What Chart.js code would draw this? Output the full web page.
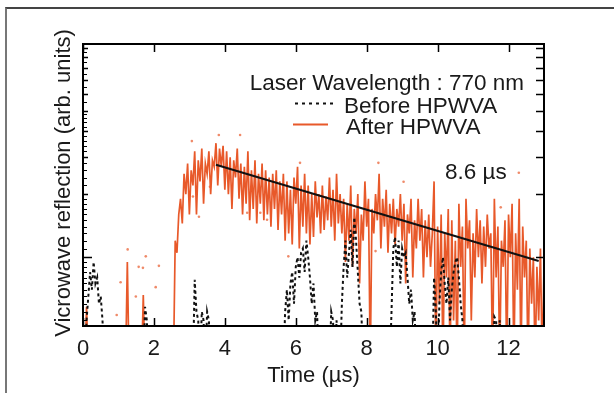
<!DOCTYPE html>
<html>
<head>
<meta charset="utf-8">
<script src="https://cdn.jsdelivr.net/npm/chart.js@4.4.1/dist/chart.umd.min.js"></script>
<style>
    html, body { margin: 0; padding: 0; background: #fff; }
    #wrap { position: relative; width: 614px; height: 393px; overflow: hidden; }
    #frame { position: absolute; left: 5px; top: 7px; width: 700px; height: 500px;
             border-top: 2px solid #444; border-left: 2px solid #777; }
    canvas { position: absolute; left: 0; top: 0; }
</style>
</head>
<body>
<div id="wrap">
    <div id="frame"></div>
    <canvas id="chart_1" width="614" height="393"></canvas>
</div>
<script>
// sample spacing of both traces (µs)
const STEP = 0.05;

// microwave reflection after HPWVA, one value per sample
const after = [
    0.3, 0.3, 0.58, 0.3, 0.3, 0.3, 0.3, 0.3, 0.3, 0.3,
    0.3, 0.3, 0.3, 0.3, 0.3, 0.3, 0.3, 0.3, 0.3, 0.3,
    0.3, 0.3, 0.3, 0.3, 0.3, 0.95, 0.3, 0.3, 0.3, 0.3,
    0.3, 0.3, 0.3, 0.3, 0.66, 0.3, 0.3, 0.3, 0.3, 0.3,
    0.3, 0.3, 0.3, 0.3, 0.3, 0.3, 0.3, 0.3, 0.3, 0.3,
    0.3, 0.3, 1.2, 1.05, 1.6, 1.9, 1.45, 2.5, 2.0, 2.8,
    1.6, 2.6, 2.2, 3.2, 1.6, 2.9, 2.3, 3.3, 1.8, 2.8,
    2.5, 3.2, 2.0, 2.9, 2.7, 3.5, 2.2, 3.3, 2.7, 3.4,
    2.1, 3.2, 2.0, 3.0, 1.7, 2.9, 2.4, 3.3, 1.9, 2.8,
    1.6, 2.7, 1.8, 3.2, 1.5, 2.6, 1.7, 2.9, 1.45, 2.5,
    1.8, 2.8, 1.5, 2.6, 1.6, 2.4, 1.4, 2.5, 1.7, 2.6,
    1.35, 2.3, 1.6, 2.5, 1.2, 2.3, 1.3, 2.1, 1.15, 2.4,
    1.8, 2.7, 1.1, 2.2, 1.4, 2.5, 1.3, 2.2, 1.15, 2.0,
    1.25, 2.3, 1.55, 2.0, 1.3, 2.2, 1.35, 1.95, 1.5, 2.4,
    1.4, 2.1, 1.2, 2.5, 1.45, 2.0, 1.3, 1.9, 0.95, 1.8,
    1.2, 2.2, 0.9, 1.7, 1.3, 2.0, 0.75, 1.6, 1.2, 2.3,
    1.4, 1.9, 0.3, 1.7, 1.3, 2.0, 1.5, 2.5, 1.1, 1.9,
    1.4, 2.1, 1.05, 1.8, 1.3, 1.9, 1.15, 1.7, 1.4, 2.0,
    1.2, 1.8, 0.75, 1.6, 1.3, 1.9, 0.8, 1.5, 1.1, 1.9,
    1.2, 1.7, 0.8, 1.5, 1.0, 1.6, 0.9, 1.3, 2.3, 0.3,
    1.4, 0.6, 1.6, 0.3, 1.3, 0.8, 1.7, 0.3, 1.5, 0.5,
    1.2, 0.3, 1.8, 0.9, 1.4, 0.3, 1.9, 1.1, 1.5, 0.5,
    1.3, 0.8, 1.7, 1.0, 1.5, 0.75, 1.4, 0.9, 1.6, 1.1,
    1.3, 0.3, 1.9, 0.8, 1.4, 0.3, 1.2, 0.9, 1.5, 0.3,
    1.6, 1.0, 1.8, 0.3, 1.3, 0.7, 1.9, 0.3, 1.4, 0.8,
    1.2, 0.3, 1.1, 0.6, 1.0, 0.3, 0.9, 0.5, 1.1, 0.3,
    0.9
];

// microwave reflection before HPWVA
const before = [
    0.3, 0.3, 0.5, 0.65, 0.85, 0.7, 0.95, 0.75, 0.8, 0.6,
    0.65, 0.5, 0.3, 0.3, 0.3, 0.3, 0.3, 0.3, 0.3, 0.3,
    0.3, 0.3, 0.3, 0.3, 0.3, 0.3, 0.3, 0.3, 0.3, 0.3,
    0.3, 0.3, 0.3, 0.3, 0.3, 0.58, 0.5, 0.3, 0.3, 0.3,
    0.3, 0.3, 0.3, 0.3, 0.3, 0.3, 0.3, 0.3, 0.3, 0.3,
    0.3, 0.3, 0.3, 0.3, 0.3, 0.3, 0.3, 0.3, 0.3, 0.3,
    0.3, 0.3, 0.3, 0.78, 0.55, 0.5, 0.3, 0.55, 0.5, 0.3,
    0.55, 0.5, 0.3, 0.3, 0.3, 0.3, 0.3, 0.3, 0.3, 0.3,
    0.3, 0.3, 0.3, 0.3, 0.3, 0.3, 0.3, 0.3, 0.3, 0.3,
    0.3, 0.3, 0.3, 0.3, 0.3, 0.3, 0.3, 0.3, 0.3, 0.3,
    0.3, 0.3, 0.3, 0.3, 0.3, 0.3, 0.3, 0.3, 0.3, 0.3,
    0.3, 0.3, 0.3, 0.3, 0.55, 0.7, 0.5, 0.75, 0.85, 0.6,
    0.9, 1.0, 0.8, 1.05, 1.1, 0.85, 1.2, 1.0, 0.8, 0.6,
    0.75, 0.5, 0.55, 0.3, 0.3, 0.3, 0.3, 0.3, 0.3, 0.3,
    0.55, 0.5, 0.3, 0.5, 0.3, 0.3, 0.6, 0.9, 1.2, 0.8,
    1.05, 1.35, 0.9, 1.55, 1.2, 0.85, 0.6, 0.55, 0.3, 0.3,
    0.3, 0.3, 0.3, 0.3, 0.3, 0.3, 0.3, 0.3, 0.3, 0.3,
    0.3, 0.3, 0.3, 0.3, 0.55, 1.1, 1.25, 0.9, 1.2, 0.75,
    1.1, 1.0, 1.05, 0.8, 0.6, 0.7, 0.5, 0.55, 0.3, 0.3,
    0.3, 0.3, 0.3, 0.3, 0.3, 0.3, 0.3, 0.3, 0.8, 0.55,
    0.3, 0.6, 0.85, 1.0, 0.75, 0.6, 0.8, 0.5, 0.7, 0.85,
    0.95, 1.0, 0.8, 0.6, 0.5, 0.3, 0.3, 0.3, 0.3, 0.3,
    0.3, 0.3, 0.3, 0.3, 0.3, 0.3, 0.3, 0.3, 0.3, 0.3,
    0.3, 0.3, 0.52, 0.5, 0.3, 0.5, 0.3, 0.3, 0.3, 0.3,
    0.3, 0.3, 0.3, 0.3, 0.3, 0.3, 0.3, 0.3, 0.3, 0.3,
    0.3, 0.3, 0.3, 0.3, 0.3, 0.3, 0.3, 0.3, 0.3, 0.3,
    0.3
];

// stray single samples scattered around the after trace
const dotsT = [0.95, 1.06, 1.26, 1.49, 1.57, 1.69, 1.77, 2.05, 2.14, 3.07, 3.1, 3.27, 3.58,
               3.83, 4.43, 4.63, 5.0, 5.19, 5.79, 6.12, 8.25, 8.33, 9.04, 11.78, 12.29];
const dotsV = [0.53, 0.76, 1.09, 0.65, 0.9, 0.89, 1.01, 0.72, 0.91, 3.58, 1.95, 1.56, 2.17,
               3.83, 3.83, 1.63, 1.63, 1.51, 1.01, 2.82, 1.07, 2.82, 2.29, 1.73, 2.53];

// exponential fit, tau = 8.6 µs
const fitT = [3.75, 12.85];
const fitV = [2.76, 0.96];

const xTicks = [0, 2, 4, 6, 8, 10, 12];
const yTicks = [1, 2, 3, 4, 5, 6, 7, 8, 9, 10];

const ORANGE = '#e8592a';
const FONT = "'Liberation Sans', Arial, Helvetica, sans-serif";

function pairs(xs, ys) {
    return ys.map(function (v, i) { return { x: xs[i], y: v }; });
}
const times = after.map(function (v, i) { return +(i * STEP).toFixed(2); });

const decor = {
    id: 'decor',
    afterDraw: function (chart) {
        const ctx = chart.ctx;
        const a = chart.chartArea;
        const x = chart.scales.x;
        const y = chart.scales.y;
        ctx.save();
        ctx.strokeStyle = '#000';
        ctx.lineWidth = 2;
        ctx.strokeRect(a.left, a.top, a.right - a.left, a.bottom - a.top);

        ctx.lineWidth = 1.5;
        ctx.beginPath();
        xTicks.forEach(function (v) {
            const px = Math.round(x.getPixelForValue(v)) + 0.5;
            ctx.moveTo(px, a.bottom); ctx.lineTo(px, a.bottom - 8);
            ctx.moveTo(px, a.top); ctx.lineTo(px, a.top + 8);
        });
        yTicks.forEach(function (v) {
            const py = Math.round(y.getPixelForValue(v)) + 0.5;
            ctx.moveTo(a.right, py); ctx.lineTo(a.right - 8, py);
            ctx.moveTo(a.left, py); ctx.lineTo(a.left + (v === 1 ? 9 : 5), py);
        });
        ctx.stroke();

        // fine minor ticks on the left edge
        ctx.lineWidth = 1;
        ctx.beginPath();
        const minor = [];
        for (let v = 0.5; v < 1; v += 0.05) minor.push(v);
        for (let v = 1.1; v < 2; v += 0.1) minor.push(v);
        for (let v = 2.2; v < 5; v += 0.2) minor.push(v);
        for (let v = 5.5; v < 10.4; v += 0.5) minor.push(v);
        minor.forEach(function (v) {
            const py = Math.round(y.getPixelForValue(v)) + 0.5;
            ctx.moveTo(a.left, py); ctx.lineTo(a.left + 4, py);
        });
        ctx.stroke();

        // legend
        ctx.fillStyle = '#1a1a1a';
        ctx.font = '22.5px ' + FONT;
        ctx.textBaseline = 'middle';
        ctx.textAlign = 'right';
        ctx.fillText('Laser Wavelength : 770 nm', 524, 84);
        ctx.textAlign = 'left';
        ctx.fillText('Before HPWVA', 344, 107);
        ctx.fillText('After HPWVA', 346, 128);
        ctx.fillText('8.6 \u00b5s', 445, 173);

        ctx.strokeStyle = '#111';
        ctx.lineWidth = 2;
        ctx.setLineDash([3, 4]);
        ctx.beginPath(); ctx.moveTo(295, 103.5); ctx.lineTo(336, 103.5); ctx.stroke();
        ctx.setLineDash([]);
        ctx.strokeStyle = ORANGE;
        ctx.beginPath(); ctx.moveTo(293, 124.5); ctx.lineTo(328, 124.5); ctx.stroke();

        // y axis title
        ctx.fillStyle = '#1a1a1a';
        ctx.font = '22px ' + FONT;
        ctx.translate(70, 183);
        ctx.rotate(-Math.PI / 2);
        ctx.textAlign = 'center';
        ctx.textBaseline = 'alphabetic';
        ctx.fillText('Vicrowave reflection (arb. units)', 0, 0);
        ctx.restore();
    }
};

document.addEventListener("DOMContentLoaded", function () {
    const chart_el = document.getElementById('chart_1');

    new Chart(chart_el, {
        type: 'line',
        data: {
            datasets: [
                {
                    label: 'After HPWVA',
                    data: pairs(times, after),
                    borderColor: ORANGE,
                    borderWidth: 1.7,
                    pointRadius: 0,
                    tension: 0,
                    order: 2
                },
                {
                    label: 'stray',
                    data: pairs(dotsT, dotsV),
                    showLine: false,
                    pointRadius: 1.3,
                    pointBorderWidth: 0,
                    pointBackgroundColor: 'rgba(232,89,42,0.7)',
                    order: 3
                },
                {
                    label: 'Before HPWVA',
                    data: pairs(times, before),
                    borderColor: '#111',
                    borderWidth: 2,
                    borderDash: [3, 3],
                    pointRadius: 0,
                    tension: 0,
                    order: 1
                },
                {
                    label: 'fit',
                    data: pairs(fitT, fitV),
                    borderColor: '#111',
                    borderWidth: 2.2,
                    pointRadius: 0,
                    order: 0
                }
            ]
        },
        options: {
            responsive: false,
            animation: false,
            devicePixelRatio: 1,
            layout: { padding: { left: 0, right: 70, top: 44, bottom: 0 } },
            plugins: {
                legend: { display: false },
                tooltip: { enabled: false }
            },
            scales: {
                x: {
                    type: 'linear',
                    min: 0,
                    max: 13,
                    afterFit: function (s) { s.height = 67; },
                    grid: { display: false, drawTicks: false },
                    border: { display: false },
                    ticks: {
                        stepSize: 2,
                        includeBounds: false,
                        maxRotation: 0,
                        padding: 10,
                        color: '#1a1a1a',
                        font: { family: FONT, size: 22 },
                        callback: function (v) { return xTicks.indexOf(v) >= 0 ? String(v) : ''; }
                    },
                    title: {
                        display: true,
                        text: 'Time (\u00b5s)',
                        color: '#1a1a1a',
                        font: { family: FONT, size: 22 },
                        padding: { top: 0, bottom: 4 }
                    }
                },
                y: {
                    type: 'logarithmic',
                    min: 0.47,
                    max: 10.4,
                    afterFit: function (s) { s.width = 83; },
                    grid: { display: false, drawTicks: false },
                    border: { display: false },
                    ticks: { display: false }
                }
            }
        },
        plugins: [decor]
    });
});
</script>
</body>
</html>
